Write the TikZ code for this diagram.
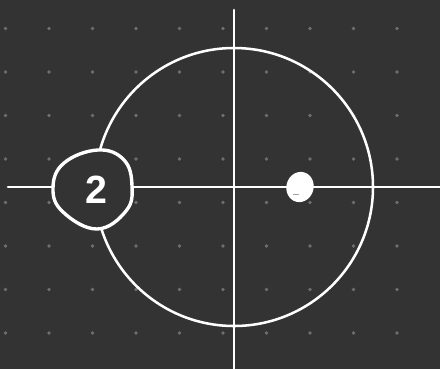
\documentclass[tikz,border=0pt]{standalone}
\usepackage{fontspec}
\setsansfont{Liberation Sans}
\usetikzlibrary{shapes.geometric, positioning, calc}
\definecolor{BoardGray}{RGB}{51, 51, 51}
\definecolor{DotGray}{RGB}{110, 110, 110}

\begin{document}
\begin{tikzpicture}[x=0.025cm, y=-0.025cm,
    chalk/.style={draw=white, line width=1.8pt, line cap=round},
    griddot/.style={circle, fill=DotGray, inner sep=0pt, minimum size=2.6pt}]
    % board
    \fill[BoardGray] (0,0) rectangle (440,369);
    \useasboundingbox (0,0) rectangle (440,369);
    \foreach \i in {0,...,9}
      \foreach \j in {0,...,7}
        \node[griddot] at ({5.5+43.5*\i},{28.5+43.5*\j}) {};

    \coordinate (origin) at (234,187);
    \coordinate (xstart) at (8,187);
    \coordinate (xend) at (440,187);
    \coordinate (ystart) at (234,10);
    \coordinate (yend) at (234,369);

    % axes and unit circle
    \draw[chalk] (xstart) -- (xend);
    \draw[chalk] (ystart) -- (yend);
    \draw[chalk] (origin) circle[radius=139*0.025cm];

    % ringed number
    \filldraw[chalk, fill=BoardGray, line width=2.4pt] plot[smooth cycle, tension=0.7]
      coordinates {(53,188) (64,163) (98,150) (124,160) (132,186) (126,211) (97,229) (63,212)};
    \node[text=white, font=\sffamily\bfseries\fontsize{28}{28}\selectfont] (two) at (96,190) {2};

    % point on the axis
    \node[ellipse, fill=white, minimum width=0.68cm, minimum height=0.76cm,
      inner sep=0pt, rotate=-15] (pt) at (300,187) {};
    \draw[black!35, line width=0.5pt] ($(pt.center)+(-7,7)$) -- ($(pt.center)+(-1,7)$);
\end{tikzpicture}
\end{document}
